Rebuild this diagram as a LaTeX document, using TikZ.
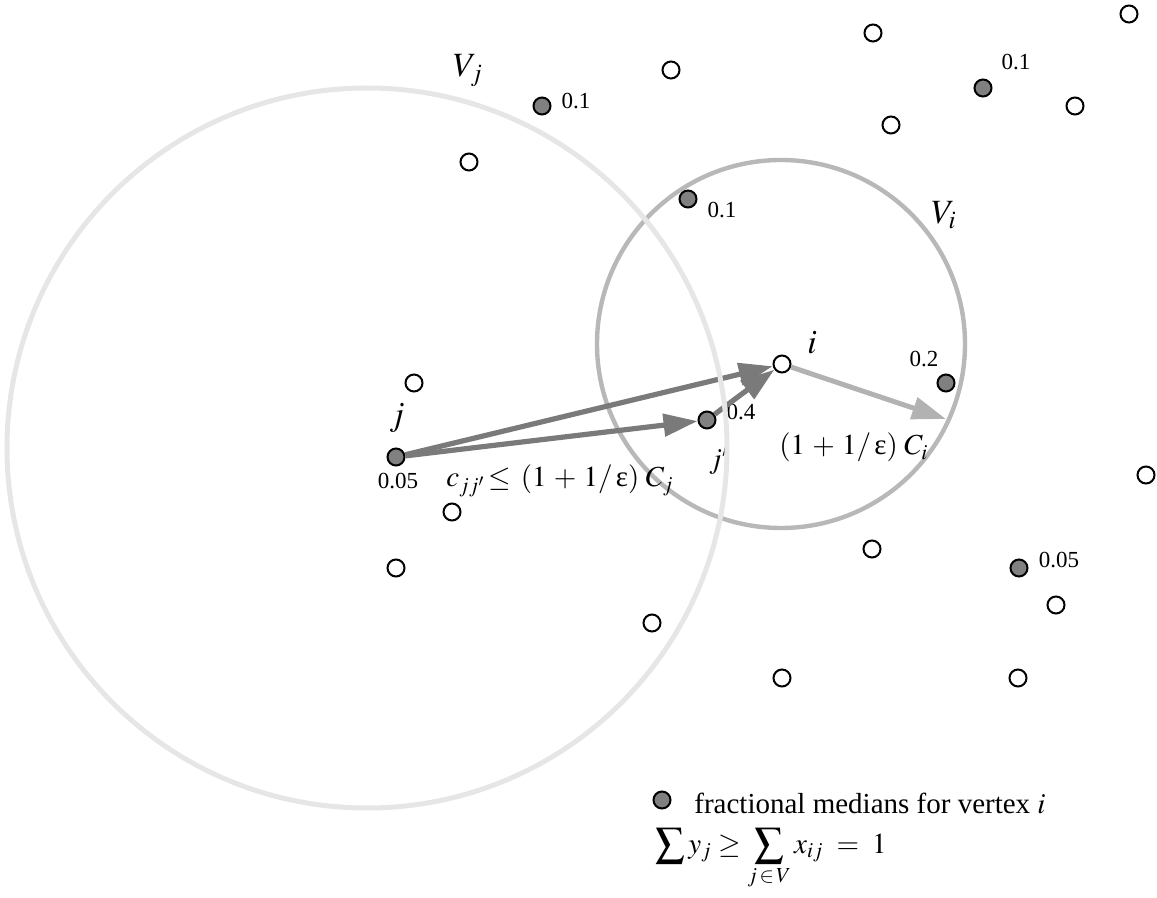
\documentclass[tikz,border=0pt]{standalone}
\usepackage{mathptmx}
\usepackage{fontspec}
\setmainfont{Liberation Serif}
\usetikzlibrary{arrows.meta}
\definecolor{medgray}{RGB}{128,128,128}
\definecolor{arrgray}{RGB}{122,122,122}
\definecolor{ligray}{RGB}{178,178,178}
\definecolor{vjgray}{RGB}{230,230,230}
\definecolor{vigray}{RGB}{184,184,184}
\tikzset{
  pt/.style={circle, draw=black, line width=1pt, minimum size=8.5pt, inner sep=0pt, fill=white},
  med/.style={pt, fill=medgray},
  small/.style={inner sep=0pt, font=\fontsize{11.5}{13}\selectfont},
  big/.style={inner sep=0pt, font=\fontsize{17}{20}\selectfont},
  mid/.style={inner sep=0pt, font=\fontsize{14.5}{17}\selectfont},
  darr/.style={draw=arrgray, line width=2.6pt, -{Triangle[length=17pt,width=11pt]}},
  larr/.style={draw=ligray, line width=2.5pt, -{Triangle[length=17pt,width=11pt]}},
}
\begin{document}
\begin{tikzpicture}[x=0.5pt, y=-0.5pt]
\useasboundingbox (0,0) rectangle (1157,898);
% V_i circle
\draw[vigray, line width=2.2pt] (781,344) circle[radius=184];
% open vertices
\node[pt] (o1) at (671,70) {};
\node[pt] (o2) at (873,33) {};
\node[pt] (o3) at (1129,14) {};
\node[pt] (o4) at (1075,106) {};
\node[pt] (o5) at (891,125) {};
\node[pt] (o6) at (469,162) {};
\node[pt] (o7) at (414,383) {};
\node[pt] (o8) at (452,512) {};
\node[pt] (o9) at (396,568) {};
\node[pt] (o10) at (652,623) {};
\node[pt] (o11) at (782,678) {};
\node[pt] (o12) at (872,549) {};
\node[pt] (o13) at (1056,605) {};
\node[pt] (o14) at (1018,678) {};
\node[pt] (o15) at (1146,475) {};
\node[pt] (i) at (782,364) {};
% fractional medians
\node[med] (j) at (396,457) {};
\node[med] (jp) at (707,420) {};
\node[med] (m1) at (542,106) {};
\node[med] (m2) at (688,199) {};
\node[med] (m3) at (983,88) {};
\node[med] (m4) at (946,383) {};
\node[med] (m5) at (1019,568) {};
\node[med] (leg) at (662,800) {};
% weights
\node[small] (w1) at (576,101) {0.1};
\node[small] (w2) at (722,210) {0.1};
\node[small] (w3) at (1016,62) {0.1};
\node[small] (w4) at (924,359) {0.2};
\node[small] (w5) at (1059,560) {0.05};
\node[small] (w6) at (741,412) {0.4};
\node[small] (w7) at (398,481) {0.05};
% labels
\node[big] (lj) at (397,418) {$j$};
\node[mid] (ljp) at (719,460) {$j'$};
\node[big] (li) at (812,343) {$i$};
\node[big] (lvj) at (468,71) {$V_j$};
\node[big] (lvi) at (944,215) {$V_i$};
\node[mid, anchor=base west] (cf) at (446,487) {$c_{jj'}\!\le\,(1\,+\,1/\,$ε$)\;C_j$};
\node[mid, anchor=base west] (ci) at (779,455) {$(1\,+\,1/\,$ε$)\;C_i$};
% arrows
\coordinate (tip) at (946,419);
\draw[darr] (j) -- (i);
\draw[darr] (j) -- (jp);
\draw[darr] (jp) -- (i);
\draw[larr] (i) -- (tip);
% V_j circle on top
\draw[vjgray, line width=2.5pt] (367,448) circle[radius=360];
% legend
\node[mid, anchor=base west] (legt) at (694,813) {fractional medians for vertex $i$};
\node[mid, anchor=west] (sumf) at (655,859) {$\displaystyle \sum y_j \ge \sum_{j\,\in\,V} x_{ij} \;=\; 1$};
\end{tikzpicture}
\end{document}
